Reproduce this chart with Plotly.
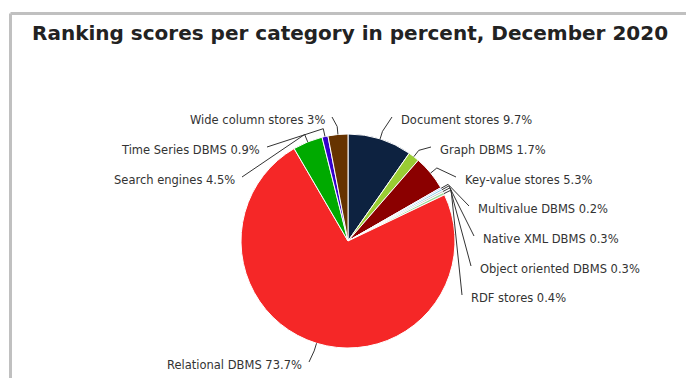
import math
import plotly.graph_objects as go

# ---- data ----
categories = ["Document stores", "Graph DBMS", "Key-value stores", "Multivalue DBMS",
              "Native XML DBMS", "Object oriented DBMS", "RDF stores", "Relational DBMS",
              "Search engines", "Time Series DBMS", "Wide column stores"]
values = [9.7, 1.7, 5.3, 0.2, 0.3, 0.3, 0.4, 73.7, 4.5, 0.9, 3]
value_labels = ["9.7%", "1.7%", "5.3%", "0.2%", "0.3%", "0.3%", "0.4%", "73.7%", "4.5%", "0.9%", "3%"]
colors = ["#0d2240", "#99cc33", "#8b0000", "#a0a0ff", "#87ceeb", "#c8c8c8", "#99dd99",
          "#f52727", "#00aa00", "#3300cc", "#663300"]
title = "Ranking scores per category in percent, December 2020"

# ---- layout (pixels) ----
W, H = 686, 378
CX, CY, R = 348, 241, 107
# label anchor positions (px) and side
label_pos = [(399, 120, "l"), (438, 150, "l"), (463, 180, "l"), (476, 209, "l"),
             (481, 239, "l"), (478, 269, "l"), (469, 298, "l"), (304, 365, "r"),
             (237, 180, "r"), (262, 150, "r"), (327, 120, "r")]

fig = go.Figure(go.Pie(
    labels=categories, values=values, sort=False, direction="clockwise", rotation=0,
    marker=dict(colors=colors, line=dict(color="white", width=1)),
    textinfo="none", hoverinfo="label+percent", showlegend=False,
    domain=dict(x=[(CX - R) / W, (CX + R) / W], y=[(H - CY - R) / H, (H - CY + R) / H]),
))

def px(x, y):
    return x / W, 1 - y / H

shapes = []
annotations = []
total = sum(values)
cum = 0.0
for cat, v, vl, (lx, ly, side) in zip(categories, values, value_labels, label_pos):
    mid = (cum + v / 2) / total * 2 * math.pi
    cum += v
    sx, sy = CX + R * math.sin(mid), CY - R * math.cos(mid)
    ex, ey = CX + (R + 8) * math.sin(mid), CY - (R + 8) * math.cos(mid)
    if side == "l":
        tx, ty = lx - 7, ly - 3
    else:
        tx, ty = lx + 5, ly - 3
    pts = [px(sx, sy), px(ex, ey), px(tx, ty)]
    path = "M {} {} L {} {} L {} {}".format(pts[0][0], pts[0][1], pts[1][0], pts[1][1], pts[2][0], pts[2][1])
    shapes.append(dict(type="path", xref="paper", yref="paper", path=path,
                       line=dict(color="#333333", width=1)))
    ax, ay = px(lx, ly)
    annotations.append(dict(text=f"{cat} {vl}", x=ax, y=ay, xref="paper", yref="paper",
                            xanchor="left" if side == "l" else "right", yanchor="middle",
                            showarrow=False, font=dict(family="DejaVu Sans", size=11.5, color="#333333")))

# title
tx, ty = px(30, 33)
annotations.append(dict(text=f"<b>{title}</b>", x=tx, y=ty, xref="paper", yref="paper",
                        xanchor="left", yanchor="middle", showarrow=False,
                        font=dict(family="DejaVu Sans", size=20, color="#222222")))

# frame border (gray lines top and left)
x0, y0 = px(10.5, 13.5)
shapes.append(dict(type="line", xref="paper", yref="paper", x0=x0, y0=y0, x1=1.01, y1=y0,
                   line=dict(color="#c0c0c0", width=3)))
shapes.append(dict(type="line", xref="paper", yref="paper", x0=x0, y0=y0, x1=x0, y1=-0.01,
                   line=dict(color="#c0c0c0", width=3)))

fig.update_layout(width=W, height=H, margin=dict(l=0, r=0, t=0, b=0),
                  paper_bgcolor="white", plot_bgcolor="white",
                  shapes=shapes, annotations=annotations)
fig.write_html("out.html")
